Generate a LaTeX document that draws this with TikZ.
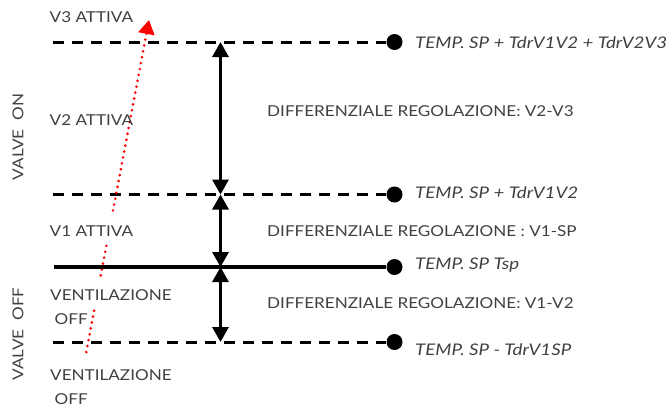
\documentclass[tikz,border=0pt]{standalone}
\usepackage{fontspec}
\setmainfont{Lato}[FakeStretch=1.14,ItalicFeatures={FakeStretch=1.17}]
\usetikzlibrary{arrows.meta}
\definecolor{txt}{HTML}{404040}
\tikzset{
  x=1pt,y=-1pt,
  lab/.style={anchor=base west,inner sep=0pt,text=txt,font=\fontsize{15}{15}\selectfont},
  masked/.style={lab,fill=white,text height=22pt,text depth=5pt},
  sidelab/.style={lab,rotate=90,anchor=center},
  templab/.style={lab,font=\fontsize{16}{16}\selectfont\itshape},
  endpt/.style={circle,fill=black,inner sep=0pt,minimum size=16pt},
  dashline/.style={line width=3pt,dash pattern=on 11pt off 8pt},
  solidline/.style={line width=3.6pt},
  spanarrow/.style={line width=3pt,{Triangle[length=15pt,width=16pt]}-{Triangle[length=15pt,width=16pt]}},
  trend/.style={red,line width=2.9pt,line cap=round,dash pattern=on 0pt off 6pt,-{Triangle[length=14pt,width=16pt]}}
}
\begin{document}
\begin{tikzpicture}
\useasboundingbox (0,0) rectangle (670,408);
\coordinate (l3) at (53,42);
\coordinate (l2) at (53,194.5);
\coordinate (l0) at (54,267);
\coordinate (l1) at (53,342);
\node[endpt] (d3) at (394.5,42) {};
\node[endpt] (d2) at (394.5,194.5) {};
\node[endpt] (d0) at (394.5,267) {};
\node[endpt] (d1) at (394.5,342) {};
\coordinate (a3) at (220.5,42);
\coordinate (a2) at (220.5,194.5);
\coordinate (a0) at (220.5,267);
\coordinate (a1) at (220.5,342);
\coordinate (rs) at (86.3,352);
\coordinate (re) at (149,20);
\draw[dashline] (l3) -- (d3);
\draw[dashline] (l2) -- (d2);
\draw[dashline] (l1) -- (d1);
\draw[trend] (rs) -- (re);
\node[lab] (v3) at (49.5,22.7) {V3 ATTIVA};
\node[lab] (v2) at (49.5,125) {V2 ATTIVA};
\node[masked] (v1) at (49.5,236.7) {V1 ATTIVA};
\node[masked] (ve1) at (50,300.7) {VENTILAZIONE};
\node[lab] (of1) at (54.5,324.7) {OFF};
\node[lab] (ve2) at (50,380.7) {VENTILAZIONE};
\node[lab] (of2) at (54.5,404) {OFF};
\node[sidelab] (von) at (18,137) {VALVE\ \ ON};
\node[sidelab] (vof) at (18,334) {VALVE\ \ OFF};
\draw[solidline] (l0) -- (d0);
\draw[spanarrow] (a3) -- (a2);
\draw[spanarrow] (a2) -- (a0);
\draw[spanarrow] (a0) -- (a1);
\node[lab] (dr3) at (267,116) {DIFFERENZIALE REGOLAZIONE: V2-V3};
\node[lab] (dr2) at (267,236.3) {DIFFERENZIALE REGOLAZIONE : V1-SP};
\node[lab] (dr1) at (267,308.3) {DIFFERENZIALE REGOLAZIONE: V1-V2};
\node[templab] (t3) at (415,48.7) {TEMP. SP + TdrV1V2 + TdrV2V3};
\node[templab] (t2) at (415,198.3) {TEMP. SP + TdrV1V2};
\node[templab] (t0) at (415,269) {TEMP. SP Tsp};
\node[templab] (t1) at (415,355) {TEMP. SP - TdrV1SP};
\end{tikzpicture}
\end{document}
